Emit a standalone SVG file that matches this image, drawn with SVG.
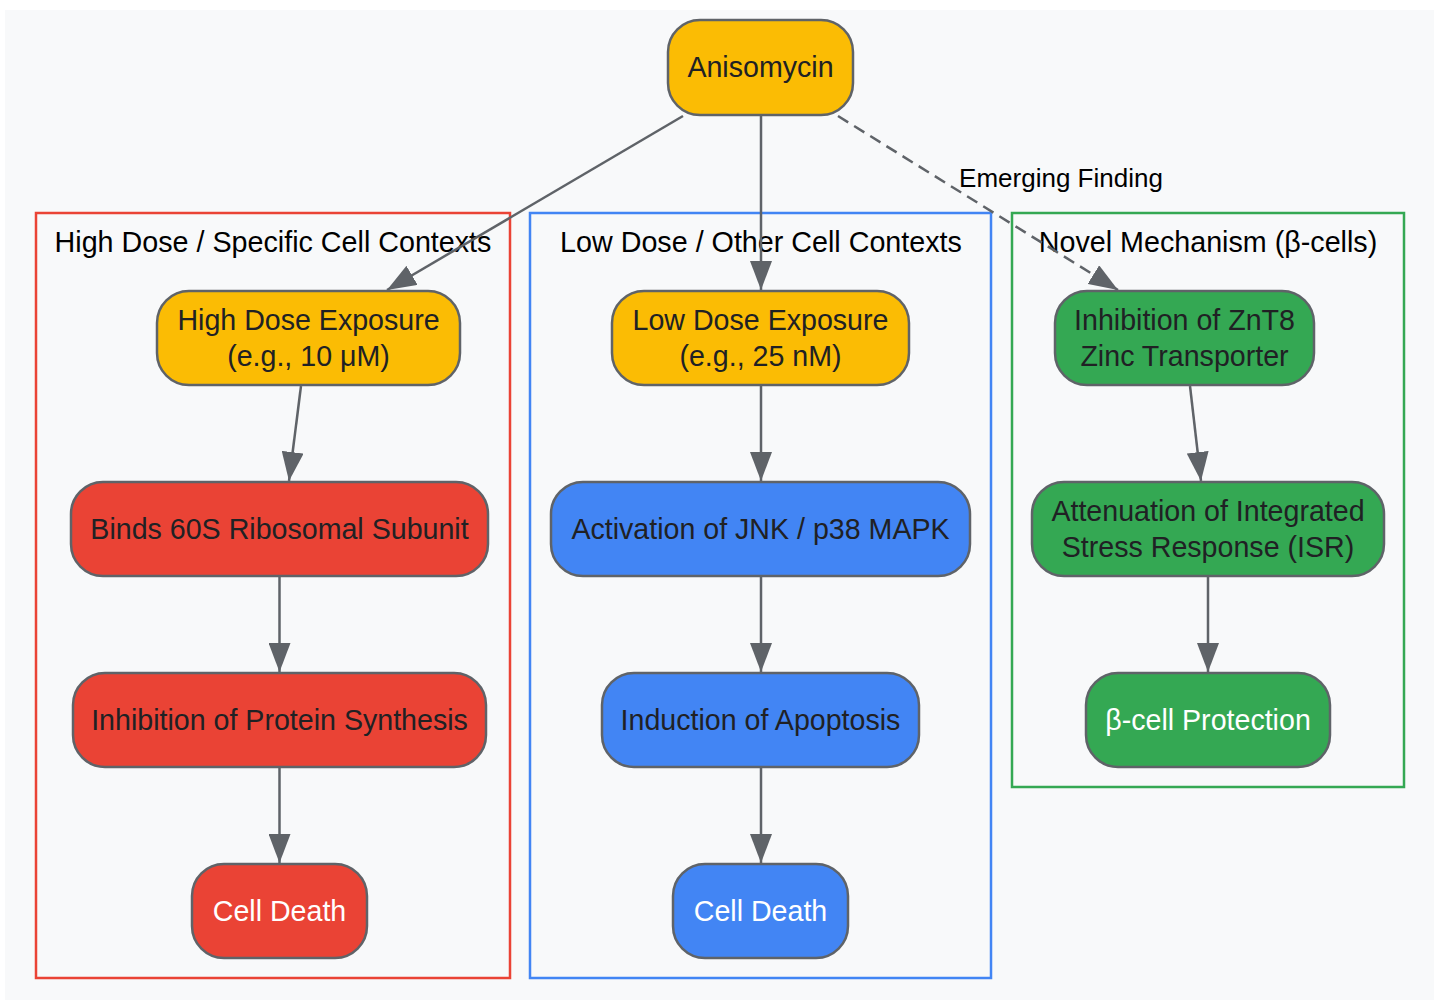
<svg xmlns="http://www.w3.org/2000/svg" width="1444" height="1002" viewBox="0 0 1444 1002">
<defs>
<style>
.bg{fill:#f8f9fa}
.n{stroke:#5f6368;stroke-width:2.5}
.y{fill:#fbbc04}.r{fill:#ea4335}.b{fill:#4285f4}.g{fill:#34a853}
.t{font-family:"Liberation Sans",Arial,sans-serif;font-size:28.6px;text-anchor:middle;fill:#202124}
.w{fill:#ffffff}
.cl{fill:none;stroke-width:2.5}
.ct{font-family:"Liberation Sans",Arial,sans-serif;font-size:28.7px;text-anchor:middle;fill:#000000}
.e{fill:none;stroke:#5f6368;stroke-width:2.5}
.el{font-family:"Liberation Sans",Arial,sans-serif;font-size:26px;text-anchor:middle;fill:#000000}
</style>
<marker id="a" viewBox="0 0 29 22" refX="29" refY="11" markerWidth="29" markerHeight="22" markerUnits="userSpaceOnUse" orient="auto">
<path d="M0,0 L29,11 L0,22 z" fill="#5f6368"/>
</marker>
</defs>
<rect x="5" y="10" width="1429" height="990" class="bg"/>
<g id="clusters">
<g id="cluster-high"><rect x="36" y="213" width="474" height="765" class="cl" stroke="#ea4335"/><text x="273" y="252" class="ct">High Dose / Specific Cell Contexts</text></g>
<g id="cluster-low"><rect x="530" y="213" width="461" height="765" class="cl" stroke="#4285f4"/><text x="761" y="252" class="ct">Low Dose / Other Cell Contexts</text></g>
<g id="cluster-novel"><rect x="1012" y="213" width="392" height="574" class="cl" stroke="#34a853"/><text x="1208" y="252" class="ct">Novel Mechanism (β-cells)</text></g>
</g>
<g id="connectors">
<line x1="683" y1="116" x2="387" y2="290" class="e" marker-end="url(#a)"/>
<line x1="761" y1="116" x2="761" y2="290" class="e" marker-end="url(#a)"/>
<line x1="838" y1="116" x2="1118" y2="290" class="e" stroke-dasharray="12,7" marker-end="url(#a)"/>
<text x="1061" y="187" class="el">Emerging Finding</text>
<line x1="301" y1="386" x2="289" y2="481" class="e" marker-end="url(#a)"/>
<line x1="279.5" y1="577" x2="279.5" y2="672" class="e" marker-end="url(#a)"/>
<line x1="279.5" y1="768" x2="279.5" y2="863" class="e" marker-end="url(#a)"/>
<line x1="761" y1="386" x2="761" y2="481" class="e" marker-end="url(#a)"/>
<line x1="761" y1="577" x2="761" y2="672" class="e" marker-end="url(#a)"/>
<line x1="761" y1="768" x2="761" y2="863" class="e" marker-end="url(#a)"/>
<line x1="1190" y1="386" x2="1201" y2="481" class="e" marker-end="url(#a)"/>
<line x1="1208" y1="577" x2="1208" y2="672" class="e" marker-end="url(#a)"/>
</g>
<g id="anisomycin"><rect x="668" y="20" width="185" height="95" rx="32" class="n y"/><text x="760.5" y="77" class="t">Anisomycin</text></g>
<g id="high-dose"><rect x="157" y="291" width="303" height="94" rx="32" class="n y"/><text x="308.5" y="330" class="t">High Dose Exposure</text><text x="308.5" y="366" class="t">(e.g., 10 μM)</text></g>
<g id="binds-60s"><rect x="71" y="482" width="417" height="94" rx="32" class="n r"/><text x="279.5" y="539" class="t">Binds 60S Ribosomal Subunit</text></g>
<g id="inhibit-protein"><rect x="73" y="673" width="413" height="94" rx="32" class="n r"/><text x="279.5" y="730" class="t">Inhibition of Protein Synthesis</text></g>
<g id="cell-death-red"><rect x="192" y="864" width="175" height="94" rx="32" class="n r"/><text x="279.5" y="921" class="t w">Cell Death</text></g>
<g id="low-dose"><rect x="612" y="291" width="297" height="94" rx="32" class="n y"/><text x="760.5" y="330" class="t">Low Dose Exposure</text><text x="760.5" y="366" class="t">(e.g., 25 nM)</text></g>
<g id="jnk"><rect x="551" y="482" width="419" height="94" rx="32" class="n b"/><text x="760.5" y="539" class="t">Activation of JNK / p38 MAPK</text></g>
<g id="apoptosis"><rect x="602" y="673" width="317" height="94" rx="32" class="n b"/><text x="760.5" y="730" class="t">Induction of Apoptosis</text></g>
<g id="cell-death-blue"><rect x="673" y="864" width="175" height="94" rx="32" class="n b"/><text x="760.5" y="921" class="t w">Cell Death</text></g>
<g id="znt8"><rect x="1055" y="291" width="259" height="94" rx="32" class="n g"/><text x="1184.5" y="330" class="t">Inhibition of ZnT8</text><text x="1184.5" y="366" class="t">Zinc Transporter</text></g>
<g id="isr"><rect x="1032" y="482" width="352" height="94" rx="32" class="n g"/><text x="1208" y="521" class="t">Attenuation of Integrated</text><text x="1208" y="557" class="t">Stress Response (ISR)</text></g>
<g id="beta-protection"><rect x="1086" y="673" width="244" height="94" rx="32" class="n g"/><text x="1208" y="730" class="t w">β-cell Protection</text></g>
</svg>
